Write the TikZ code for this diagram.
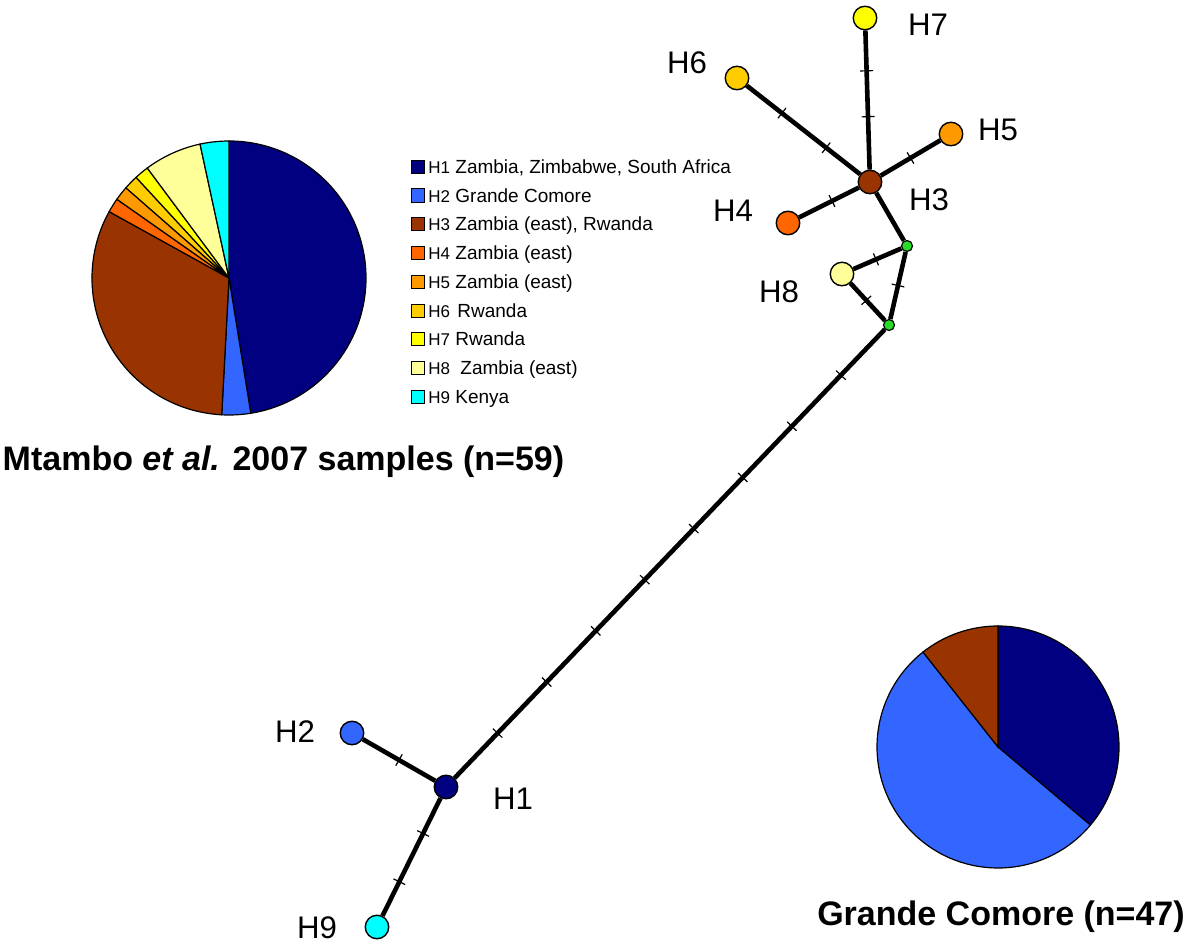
\documentclass[tikz,border=0pt]{standalone}
\usepackage{fontspec}
\setmainfont{Liberation Sans}
\usetikzlibrary{positioning}
\definecolor{darknavy}{RGB}{0, 0, 128}
\definecolor{comoreblue}{RGB}{51, 102, 255}
\definecolor{rustbrown}{RGB}{153, 51, 0}
\definecolor{deeporange}{RGB}{255, 102, 0}
\definecolor{amber}{RGB}{255, 153, 0}
\definecolor{goldhap}{RGB}{255, 204, 0}
\definecolor{brightyellow}{RGB}{255, 255, 0}
\definecolor{paleyellow}{RGB}{255, 255, 153}
\definecolor{aquacyan}{RGB}{0, 255, 255}
\definecolor{junctiongreen}{RGB}{40, 220, 40}

\begin{document}
\begin{tikzpicture}[x=0.5pt, y=0.5pt,
    hap/.style={circle, draw, line width=0.7pt, minimum size=11.75pt, inner sep=0pt},
    junction/.style={circle, draw, line width=0.6pt, fill=junctiongreen, minimum size=5.5pt, inner sep=0pt},
    link/.style={line width=2.3pt},
    mut/.style={draw, sloped, line width=0.6pt, inner sep=0pt, minimum width=0pt, minimum height=6.5pt},
    hlabel/.style={font=\fontsize{15.6}{18}\selectfont, inner sep=0pt},
    key/.style={draw, line width=0.5pt, minimum size=6.5pt, inner sep=0pt},
    keytext/.style={inner sep=0pt, text height=6.8pt, text depth=0pt, font=\fontsize{9.5}{11}\selectfont},
    slice/.style={draw, line width=0.6pt},
    caption/.style={font=\bfseries\fontsize{17}{20}\selectfont, inner sep=0pt, anchor=base}]
    \useasboundingbox (0,0) rectangle (1200,-947);

    % Pie: all samples
    \coordinate (pieall) at (229,-278);
    \filldraw[slice, fill=darknavy] (pieall) -- ++(90:137) arc[start angle=90, end angle=-80.85, radius=137] -- cycle;
    \filldraw[slice, fill=comoreblue] (pieall) -- ++(-80.85:137) arc[start angle=-80.85, end angle=-93.05, radius=137] -- cycle;
    \filldraw[slice, fill=rustbrown] (pieall) -- ++(-93.05:137) arc[start angle=-93.05, end angle=-208.98, radius=137] -- cycle;
    \filldraw[slice, fill=deeporange] (pieall) -- ++(-208.98:137) arc[start angle=-208.98, end angle=-215.08, radius=137] -- cycle;
    \filldraw[slice, fill=amber] (pieall) -- ++(-215.08:137) arc[start angle=-215.08, end angle=-221.19, radius=137] -- cycle;
    \filldraw[slice, fill=goldhap] (pieall) -- ++(-221.19:137) arc[start angle=-221.19, end angle=-227.29, radius=137] -- cycle;
    \filldraw[slice, fill=brightyellow] (pieall) -- ++(-227.29:137) arc[start angle=-227.29, end angle=-233.39, radius=137] -- cycle;
    \filldraw[slice, fill=paleyellow] (pieall) -- ++(-233.39:137) arc[start angle=-233.39, end angle=-257.80, radius=137] -- cycle;
    \filldraw[slice, fill=aquacyan] (pieall) -- ++(-257.80:137) arc[start angle=-257.80, end angle=-270, radius=137] -- cycle;
    \node (alltitle) [caption] at (283.5,-470) {Mtambo \textit{et al.} 2007 samples (n=59)};

    % Pie: Grande Comore
    \coordinate (piecom) at (998,-747);
    \filldraw[slice, fill=darknavy] (piecom) -- ++(90:121) arc[start angle=90, end angle=-40.21, radius=121] -- cycle;
    \filldraw[slice, fill=comoreblue] (piecom) -- ++(-40.21:121) arc[start angle=-40.21, end angle=-231.70, radius=121] -- cycle;
    \filldraw[slice, fill=rustbrown] (piecom) -- ++(-231.70:121) arc[start angle=-231.70, end angle=-270, radius=121] -- cycle;
    \node (comtitle) [caption] at (1001,-925) {Grande Comore (n=47)};

    % Legend
    \node (k1) [key, fill=darknavy] at (418,-167) {};
    \node (k2) [key, fill=comoreblue] at (418,-195.5) {};
    \node (k3) [key, fill=rustbrown] at (418,-224) {};
    \node (k4) [key, fill=deeporange] at (418,-253) {};
    \node (k5) [key, fill=amber] at (418,-282) {};
    \node (k6) [key, fill=goldhap] at (418,-310.5) {};
    \node (k7) [key, fill=brightyellow] at (418,-339) {};
    \node (k8) [key, fill=paleyellow] at (418,-368) {};
    \node (k9) [key, fill=aquacyan] at (418,-396.5) {};
    \node (t1) [keytext, right=1.5pt of k1] {{\fontsize{8.5}{10}\selectfont H1} Zambia, Zimbabwe, South Africa};
    \node (t2) [keytext, right=1.5pt of k2] {{\fontsize{8.5}{10}\selectfont H2} Grande Comore};
    \node (t3) [keytext, right=1.5pt of k3] {{\fontsize{8.5}{10}\selectfont H3} Zambia (east), Rwanda};
    \node (t4) [keytext, right=1.5pt of k4] {{\fontsize{8.5}{10}\selectfont H4} Zambia (east)};
    \node (t5) [keytext, right=1.5pt of k5] {{\fontsize{8.5}{10}\selectfont H5} Zambia (east)};
    \node (t6) [keytext, right=1.5pt of k6] {{\fontsize{8.5}{10}\selectfont H6} \hspace{1pt}Rwanda};
    \node (t7) [keytext, right=1.5pt of k7] {{\fontsize{8.5}{10}\selectfont H7} Rwanda};
    \node (t8) [keytext, right=1.5pt of k8] {{\fontsize{8.5}{10}\selectfont H8} \hspace{2.5pt}Zambia (east)};
    \node (t9) [keytext, right=1.5pt of k9] {{\fontsize{8.5}{10}\selectfont H9} Kenya};

    % Haplotypes
    \node (h1) [hap, fill=darknavy] at (446,-787) {};
    \node (h2) [hap, fill=comoreblue] at (352,-733) {};
    \node (h3) [hap, fill=rustbrown] at (870,-182) {};
    \node (h4) [hap, fill=deeporange] at (788,-223) {};
    \node (h5) [hap, fill=amber] at (951,-134) {};
    \node (h6) [hap, fill=goldhap] at (737,-78) {};
    \node (h7) [hap, fill=brightyellow] at (865,-18) {};
    \node (h8) [hap, fill=paleyellow] at (842,-274) {};
    \node (h9) [hap, fill=aquacyan] at (377,-927) {};
    \node (j1) [junction] at (889,-325) {};
    \node (j2) [junction] at (907,-246) {};

    % Labels
    \node (l1) [hlabel] at (513,-799) {H1};
    \node (l2) [hlabel] at (295,-732) {H2};
    \node (l3) [hlabel] at (929,-200) {H3};
    \node (l4) [hlabel] at (733,-211) {H4};
    \node (l5) [hlabel] at (998,-130) {H5};
    \node (l6) [hlabel] at (687,-63) {H6};
    \node (l7) [hlabel] at (928,-25) {H7};
    \node (l8) [hlabel] at (779,-292) {H8};
    \node (l9) [hlabel] at (317,-928) {H9};

    % Links with mutation steps
    \draw[link] (h1) -- node[mut, pos=.1] {} node[mut, pos=.214] {} node[mut, pos=.328] {} node[mut, pos=.442] {}
        node[mut, pos=.556] {} node[mut, pos=.67] {} node[mut, pos=.784] {} node[mut, pos=.898] {} (j1);
    \draw[link] (h1) -- node[mut, pos=.5] {} (h2);
    \draw[link] (h1) -- node[mut, pos=.3] {} node[mut, pos=.71] {} (h9);
    \draw[link] (j1) -- node[mut, pos=.5] {} (j2);
    \draw[link] (j2) -- node[mut, pos=.53] {} (h8);
    \draw[link] (h8) -- node[mut, pos=.46] {} (j1);
    \draw[link] (j2) -- (h3);
    \draw[link] (h3) -- node[mut, pos=.45] {} (h4);
    \draw[link] (h3) -- node[mut, pos=.5] {} (h5);
    \draw[link] (h3) -- node[mut, pos=.3] {} node[mut, pos=.69] {} (h6);
    \draw[link] (h3) -- node[mut, pos=.38] {} node[mut, pos=.71] {} (h7);
\end{tikzpicture}
\end{document}
